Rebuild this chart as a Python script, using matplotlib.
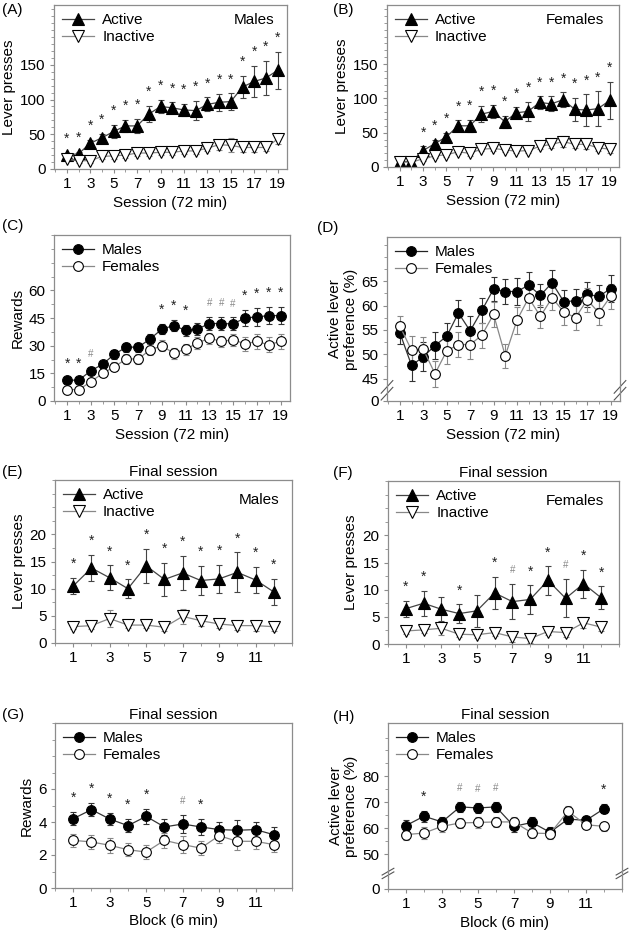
import numpy as np
import matplotlib
matplotlib.use('Agg')
import matplotlib.pyplot as plt
import matplotlib.transforms as mtransforms
from matplotlib.lines import Line2D
from matplotlib.ticker import MultipleLocator

plt.rcParams['font.family'] = ['Liberation Sans', 'DejaVu Sans']
plt.rcParams['font.size'] = 11

# Dados
sessions = np.arange(1, 20)
blocks = np.arange(1, 13)

a_active = [20, 22, 37, 45, 54, 62, 62, 79, 90, 88, 85, 84, 93, 96, 97, 118, 126, 131, 142]
a_active_err = [3, 3, 5, 6, 10, 9, 10, 12, 10, 8, 9, 14, 10, 12, 12, 16, 22, 25, 27]
a_inactive = [14, 12, 12, 18, 19, 20, 23, 23, 24, 24, 26, 26, 30, 35, 34, 31, 31, 31, 43]
a_inactive_err = [3, 3, 3, 3, 4, 4, 4, 4, 4, 4, 4, 4, 4, 7, 10, 7, 6, 5, 7]
a_marks = ['*'] * 19

b_active = [8, 8, 24, 34, 44, 60, 60, 77, 81, 66, 79, 81, 94, 92, 98, 84, 83, 85, 97]
b_active_err = [2, 2, 6, 6, 6, 8, 9, 12, 10, 9, 8, 14, 9, 11, 11, 17, 23, 25, 27]
b_inactive = [7, 7, 12, 16, 18, 22, 20, 26, 27, 25, 23, 24, 30, 33, 37, 33, 33, 28, 26]
b_inactive_err = [3, 3, 3, 3, 3, 3, 4, 3, 3, 3, 3, 3, 4, 6, 8, 6, 7, 4, 6]
b_marks = ['', ''] + ['*'] * 17

c_males = [11.3, 11.3, 16.4, 19.9, 25.4, 29.2, 29.2, 33.6, 39.0, 40.9, 38.3, 39.0,
           42.0, 42.0, 41.8, 45.0, 45.6, 46.3, 46.3]
c_males_err = [1.5, 1.5, 1.8, 1.8, 2.5, 2.5, 2.5, 2.5, 2.8, 3.2, 3.0, 3.2,
               3.5, 3.5, 3.5, 4.6, 5.0, 4.8, 4.8]
c_females = [6.2, 6.2, 10.4, 15.0, 18.6, 22.8, 22.8, 27.7, 29.9, 25.9, 28.1, 31.4,
             34.1, 32.3, 33.2, 31.0, 32.3, 30.5, 32.3]
c_females_err = [1.5, 1.5, 1.8, 2.0, 2.5, 2.5, 2.5, 3.0, 3.0, 3.0, 3.0, 3.2,
                 3.0, 3.2, 3.2, 3.8, 4.0, 4.2, 4.2]
c_marks = ['*', '*', '#', '', '', '', '', '', '*', '*', '*', '', '#', '#', '#', '*', '*', '*', '*']

d_males = [54.4, 47.7, 49.5, 51.8, 53.7, 58.5, 54.8, 59.0, 63.4, 62.9, 62.9, 64.2,
           62.1, 64.7, 60.8, 61.0, 62.3, 61.9, 63.5]
d_males_err = [2.3, 3.2, 3.0, 2.8, 2.7, 2.7, 3.0, 2.5, 2.5, 2.5, 2.8, 2.8,
               2.3, 2.7, 2.5, 2.5, 2.5, 2.3, 2.7]
d_females = [55.8, 50.8, 51.0, 46.0, 50.7, 52.0, 52.0, 53.9, 58.2, 49.7, 57.0, 61.6,
             57.8, 61.6, 58.7, 57.5, 61.2, 58.5, 61.9]
d_females_err = [2.0, 3.0, 2.5, 2.7, 2.7, 2.6, 3.0, 2.6, 2.6, 2.5, 2.8, 2.6,
                 2.3, 2.6, 2.6, 2.5, 2.5, 2.4, 2.6]

e_active = [10.5, 13.8, 12.0, 10.0, 14.2, 11.7, 12.9, 11.5, 11.8, 13.0, 11.6, 9.4]
e_active_err = [1.5, 2.4, 2.3, 1.7, 3.1, 3.0, 3.2, 2.7, 2.6, 3.7, 2.4, 2.4]
e_inactive = [3.0, 3.2, 4.5, 3.3, 3.3, 2.9, 4.9, 4.1, 3.5, 3.2, 3.2, 3.0]
e_inactive_err = [0.5, 0.7, 1.5, 0.5, 0.5, 0.7, 1.4, 0.9, 0.7, 0.8, 0.9, 0.7]
e_marks = ['*'] * 12

f_active = [6.5, 7.5, 6.4, 5.6, 6.1, 9.4, 7.8, 8.2, 11.7, 8.4, 11.1, 8.5]
f_active_err = [1.5, 2.3, 2.2, 1.7, 2.9, 3.0, 3.2, 2.6, 2.6, 3.5, 2.6, 2.1]
f_inactive = [2.4, 2.6, 2.9, 1.8, 1.7, 2.1, 1.3, 1.0, 2.3, 2.1, 3.9, 3.1]
f_inactive_err = [0.5, 0.6, 1.2, 0.5, 0.6, 0.6, 1.0, 0.8, 0.6, 0.8, 1.0, 0.7]
f_marks = ['*', '*', '', '*', '', '*', '#', '*', '*', '#', '*', '*']

g_males = [4.2, 4.75, 4.18, 3.78, 4.34, 3.7, 3.88, 3.7, 3.54, 3.5, 3.54, 3.23]
g_males_err = [0.4, 0.4, 0.36, 0.4, 0.47, 0.48, 0.56, 0.48, 0.47, 0.6, 0.47, 0.47]
g_females = [2.89, 2.79, 2.59, 2.32, 2.18, 2.89, 2.63, 2.42, 3.17, 2.83, 2.83, 2.63]
g_females_err = [0.4, 0.45, 0.45, 0.4, 0.45, 0.45, 0.5, 0.45, 0.45, 0.5, 0.45, 0.45]
g_marks = ['*', '*', '*', '*', '*', '', '#', '*', '', '', '', '']

h_males = [61.0, 64.6, 62.4, 68.2, 67.8, 68.2, 60.7, 62.2, 58.4, 63.5, 63.0, 67.5]
h_males_err = [2.3, 2.2, 2.0, 2.0, 1.8, 1.8, 2.0, 2.0, 2.0, 2.0, 1.8, 1.8]
h_females = [57.5, 58.1, 60.7, 62.0, 62.2, 62.4, 62.4, 58.1, 57.9, 66.5, 61.3, 60.7]
h_females_err = [2.2, 2.2, 2.0, 2.0, 2.0, 1.8, 2.0, 2.0, 2.0, 2.0, 1.8, 1.8]
h_marks = ['', '*', '', '#', '#', '#', '', '', '', '', '', '*']

W, H = 630, 934
fig = plt.figure(figsize=(W / 100, H / 100), dpi=100)
FRAME = '#8c8c8c'


def novo_eixo(l, r, t, b):
    ax = fig.add_axes([l / W, 1 - b / H, (r - l) / W, (b - t) / H])
    for s in ax.spines.values():
        s.set_color(FRAME)
        s.set_linewidth(0.9)
    ax.tick_params(direction='out', color=FRAME, length=3, width=0.8, pad=3)
    ax.tick_params(which='minor', direction='out', color=FRAME, length=2, width=0.6)
    return ax


def serie(ax, x, y, e, marker, face, cor, ms=8):
    ax.errorbar(x, y, yerr=e, fmt='-', marker=marker, color=cor, mfc=face, mec='black',
                mew=0.8, ms=ms, lw=0.9, ecolor=cor, elinewidth=0.8, capsize=2.5,
                capthick=0.8)


def marcas(ax, x, y, e, m):
    for xi, yi, ei, mi in zip(x, y, e, m):
        if mi == '*':
            ax.annotate('*', (xi, yi + ei), xytext=(0, 10), textcoords='offset points',
                        ha='center', va='center', fontsize=10, color='#222222')
        elif mi == '#':
            ax.annotate('#', (xi, yi + ei), xytext=(0, 10), textcoords='offset points',
                        ha='center', va='center', fontsize=7, color='#888888')


def legenda(ax, nomes, estilos):
    handles = []
    for (marker, face, cor, ms) in estilos:
        handles.append(Line2D([], [], color=cor, lw=0.9, marker=marker, mfc=face,
                              mec='black', mew=0.8, ms=ms))
    ax.legend(handles, nomes, loc='upper left', frameon=False, handlelength=2.1,
              handletextpad=0.5, borderaxespad=0.25, borderpad=0.3, labelspacing=0.18,
              fontsize=11)


ESTILO_AI = [('^', 'black', '#444444', 8), ('v', 'white', '#888888', 8)]
ESTILO_MF = [('o', 'black', '#222222', 7), ('o', 'white', '#888888', 7)]


def quebra(ax, yb):
    tr = mtransforms.blended_transform_factory(ax.transAxes, ax.transData)
    for xa in (0, 1):
        for dy in (-0.7, 0.7):
            ax.plot([xa - 0.025, xa + 0.025], [yb - 1.3 + dy, yb + 1.3 + dy], transform=tr,
                    color='#555555', lw=0.8, clip_on=False)


def eixo_sessao(ax):
    ax.set_xlim(-0.1, 19.8)
    ax.set_xticks(np.arange(1, 20, 2))
    ax.xaxis.set_minor_locator(MultipleLocator(1))
    ax.set_xlabel('Session (72 min)', labelpad=3)


def eixo_bloco(ax, rotulo=True):
    ax.set_xlim(0, 13)
    ax.set_xticks(np.arange(1, 12, 2))
    ax.xaxis.set_minor_locator(MultipleLocator(1))
    if rotulo:
        ax.set_xlabel('Block (6 min)', labelpad=3)


# (A)
ax = novo_eixo(54, 287, 5, 169)
serie(ax, sessions, a_active, a_active_err, '^', 'black', '#444444')
serie(ax, sessions, a_inactive, a_inactive_err, 'v', 'white', '#888888')
marcas(ax, sessions, a_active, a_active_err, a_marks)
ax.set_ylim(0, 236)
ax.set_yticks([0, 50, 100, 150])
ax.yaxis.set_minor_locator(MultipleLocator(10))
eixo_sessao(ax)
ax.set_ylabel('Lever presses', labelpad=3)
legenda(ax, ['Active', 'Inactive'], ESTILO_AI)
ax.text(0.86, 0.91, 'Males', transform=ax.transAxes, ha='center', va='center')
fig.text(2 / W, 1 - 10 / H, '(A)', ha='left', va='center')

# (B)
ax = novo_eixo(387, 619, 5, 167)
serie(ax, sessions, b_active, b_active_err, '^', 'black', '#444444')
serie(ax, sessions, b_inactive, b_inactive_err, 'v', 'white', '#888888')
marcas(ax, sessions, b_active, b_active_err, b_marks)
ax.set_ylim(0, 236)
ax.set_yticks([0, 50, 100, 150])
ax.yaxis.set_minor_locator(MultipleLocator(10))
eixo_sessao(ax)
ax.set_ylabel('Lever presses', labelpad=3)
legenda(ax, ['Active', 'Inactive'], ESTILO_AI)
ax.text(0.81, 0.91, 'Females', transform=ax.transAxes, ha='center', va='center')
fig.text(333 / W, 1 - 10 / H, '(B)', ha='left', va='center')

# (C)
ax = novo_eixo(54, 290, 235, 401)
serie(ax, sessions, c_males, c_males_err, 'o', 'black', '#333333', ms=7)
serie(ax, sessions, c_females, c_females_err, 'o', 'white', '#888888', ms=7)
marcas(ax, sessions, c_males, c_males_err, c_marks)
ax.set_ylim(0, 90)
ax.set_yticks([0, 15, 30, 45, 60])
ax.yaxis.set_minor_locator(MultipleLocator(7.5))
eixo_sessao(ax)
ax.set_ylabel('Rewards', labelpad=3)
legenda(ax, ['Males', 'Females'], ESTILO_MF)
fig.text(2 / W, 1 - 226 / H, '(C)', ha='left', va='center')

# (D)
ax = novo_eixo(387, 620, 237, 401)
serie(ax, sessions, d_males, d_males_err, 'o', 'black', '#333333', ms=7)
serie(ax, sessions, d_females, d_females_err, 'o', 'white', '#888888', ms=7)
ax.set_ylim(40.4, 74.1)
ax.set_yticks([40.4, 45, 50, 55, 60, 65])
ax.set_yticklabels(['0', '45', '50', '55', '60', '65'])
ax.set_yticks(np.arange(45, 74, 2.5), minor=True)
eixo_sessao(ax)
ax.set_ylabel('Active lever\npreference (%)', labelpad=3, linespacing=1.1)
legenda(ax, ['Males', 'Females'], ESTILO_MF)
quebra(ax, 42.6)
fig.text(317 / W, 1 - 228 / H, '(D)', ha='left', va='center')

# (E)
ax = novo_eixo(55, 292, 480, 643)
serie(ax, blocks, e_active, e_active_err, '^', 'black', '#444444')
serie(ax, blocks, e_inactive, e_inactive_err, 'v', 'white', '#888888')
marcas(ax, blocks, e_active, e_active_err, e_marks)
ax.set_ylim(0, 30)
ax.set_yticks([0, 5, 10, 15, 20])
ax.yaxis.set_minor_locator(MultipleLocator(2.5))
eixo_bloco(ax, rotulo=False)
ax.set_ylabel('Lever presses', labelpad=3)
ax.set_title('Final session', fontsize=11, pad=3)
legenda(ax, ['Active', 'Inactive'], ESTILO_AI)
ax.text(0.86, 0.88, 'Males', transform=ax.transAxes, ha='center', va='center')
fig.text(2 / W, 1 - 472 / H, '(E)', ha='left', va='center')

# (F)
ax = novo_eixo(388, 619, 481, 644)
serie(ax, blocks, f_active, f_active_err, '^', 'black', '#444444')
serie(ax, blocks, f_inactive, f_inactive_err, 'v', 'white', '#888888')
marcas(ax, blocks, f_active, f_active_err, f_marks)
ax.set_ylim(0, 30)
ax.set_yticks([0, 5, 10, 15, 20])
ax.yaxis.set_minor_locator(MultipleLocator(2.5))
eixo_bloco(ax, rotulo=False)
ax.set_ylabel('Lever presses', labelpad=3)
ax.set_title('Final session', fontsize=11, pad=3)
legenda(ax, ['Active', 'Inactive'], ESTILO_AI)
ax.text(0.81, 0.88, 'Females', transform=ax.transAxes, ha='center', va='center')
fig.text(333 / W, 1 - 473 / H, '(F)', ha='left', va='center')

# (G)
ax = novo_eixo(55, 292, 723, 888)
serie(ax, blocks, g_males, g_males_err, 'o', 'black', '#333333', ms=7)
serie(ax, blocks, g_females, g_females_err, 'o', 'white', '#888888', ms=7)
marcas(ax, blocks, g_males, g_males_err, g_marks)
ax.set_ylim(0, 10)
ax.set_yticks([0, 2, 4, 6])
ax.yaxis.set_minor_locator(MultipleLocator(1))
eixo_bloco(ax)
ax.set_ylabel('Rewards', labelpad=3)
ax.set_title('Final session', fontsize=11, pad=3)
legenda(ax, ['Males', 'Females'], ESTILO_MF)
fig.text(2 / W, 1 - 715 / H, '(G)', ha='left', va='center')

# (H)
ax = novo_eixo(388, 622, 723, 889)
serie(ax, blocks, h_males, h_males_err, 'o', 'black', '#333333', ms=7)
serie(ax, blocks, h_females, h_females_err, 'o', 'white', '#888888', ms=7)
marcas(ax, blocks, h_males, h_males_err, h_marks)
ax.set_ylim(36.5, 100.6)
ax.set_yticks([36.5, 50, 60, 70, 80])
ax.set_yticklabels(['0', '50', '60', '70', '80'])
ax.set_yticks(np.arange(50, 100, 5), minor=True)
eixo_bloco(ax)
ax.set_ylabel('Active lever\npreference (%)', labelpad=3, linespacing=1.1)
ax.set_title('Final session', fontsize=11, pad=3)
legenda(ax, ['Males', 'Females'], ESTILO_MF)
quebra(ax, 42.5)
fig.text(333 / W, 1 - 717 / H, '(H)', ha='left', va='center')

fig.savefig('out.png', dpi=100)
